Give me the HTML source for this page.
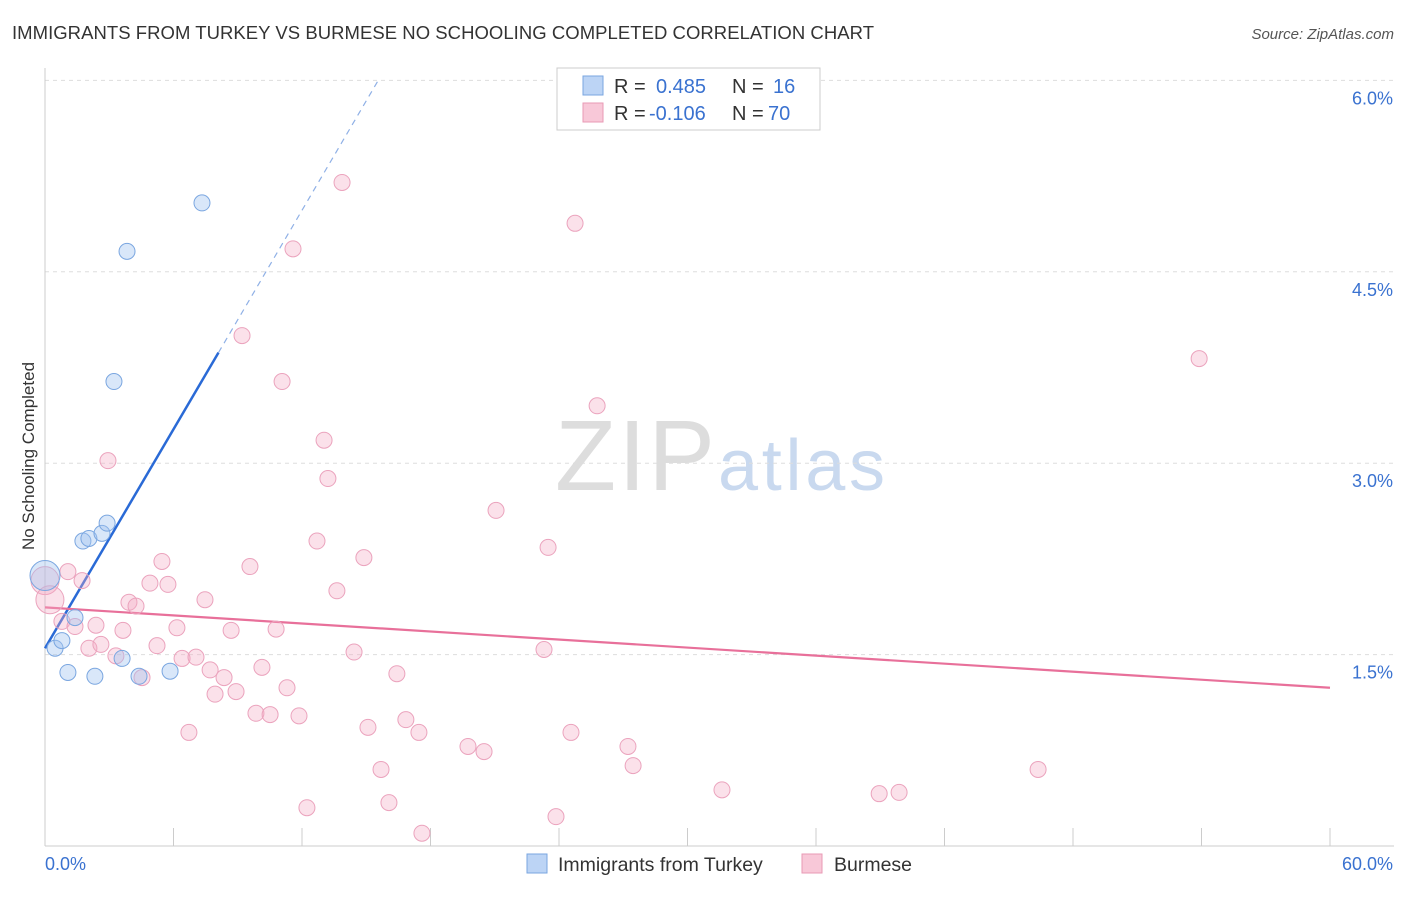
<!DOCTYPE html>
<html><head><meta charset="utf-8"><style>
body{margin:0;background:#fff;font-family:"Liberation Sans",sans-serif;}
svg text{font-family:"Liberation Sans",sans-serif;}
</style></head><body>
<svg id="chart" width="1406" height="892" xmlns="http://www.w3.org/2000/svg">
<text x="12" y="39" font-size="18.5" fill="#333" textLength="862">IMMIGRANTS FROM TURKEY VS BURMESE NO SCHOOLING COMPLETED CORRELATION CHART</text>
<text x="1394" y="39" font-size="15" fill="#555" font-style="italic" text-anchor="end">Source: ZipAtlas.com</text>
<text x="555" y="490" font-size="100" fill="#ddd" textLength="160" font-family="Liberation Serif">ZIP</text>
<text x="718" y="490" font-size="72" fill="#c9d9ef" textLength="167">atlas</text>
<text transform="translate(34,456) rotate(-90)" font-size="17" fill="#333" text-anchor="middle">No Schooling Completed</text>
<g id="grid"></g><g id="trends"></g><g id="points"></g>
<g>
<rect x="557" y="68" width="263" height="62" fill="#fff" stroke="#ccc"/>
<rect x="583" y="76" width="20" height="19" fill="#bcd4f5" stroke="#7aa6e0"/>
<text x="614" y="93" font-size="20" fill="#333">R = <tspan fill="#3a72d0" x="656">0.485</tspan><tspan x="732">N = </tspan><tspan fill="#3a72d0" x="773">16</tspan></text>
<rect x="583" y="103" width="20" height="19" fill="#f8c8d8" stroke="#e89ab5"/>
<text x="614" y="120" font-size="20" fill="#333">R = <tspan fill="#3a72d0" x="649">-0.106</tspan><tspan x="732">N = </tspan><tspan fill="#3a72d0" x="768">70</tspan></text>
</g>
<g>
<rect x="527" y="854" width="20" height="19" fill="#bcd4f5" stroke="#7aa6e0"/>
<text x="558" y="871" font-size="19.5" fill="#333">Immigrants from Turkey</text>
<rect x="802" y="854" width="20" height="19" fill="#f8c8d8" stroke="#e89ab5"/>
<text x="834" y="871" font-size="19.5" fill="#333">Burmese</text>
</g>
</svg>
<script>
const blueX=[0,0.47,0.79,1.07,1.40,1.77,2.05,2.33,2.66,2.90,3.22,3.60,3.83,4.39,5.84,7.33];
const blueY=[2.12,1.55,1.61,1.36,1.79,2.39,2.41,1.33,2.45,2.53,3.64,1.47,4.66,1.33,1.37,5.04];
const pinkX=[0,0.23,0.79,1.07,1.40,1.73,2.05,2.38,2.61,2.94,3.31,3.64,3.92,4.25,4.53,4.90,5.23,5.46,5.74,6.16,6.40,6.72,7.05,7.47,7.71,7.94,8.36,8.69,8.92,9.20,9.57,9.85,10.13,10.51,10.79,11.07,11.30,11.58,11.86,12.23,12.70,13.03,13.21,13.63,13.87,14.43,14.89,15.08,15.69,16.06,16.43,16.85,17.46,17.60,19.75,20.50,21.06,23.30,23.49,23.86,24.56,24.75,25.78,27.22,27.46,31.61,38.95,39.88,46.37,53.89];
const pinkY=[2.08,1.93,1.76,2.15,1.72,2.08,1.55,1.73,1.58,3.02,1.49,1.69,1.91,1.88,1.32,2.06,1.57,2.23,2.05,1.71,1.47,0.89,1.48,1.93,1.38,1.19,1.32,1.69,1.21,4.00,2.19,1.04,1.40,1.03,1.70,3.64,1.24,4.68,1.02,0.30,2.39,3.18,2.88,2.00,5.20,1.52,2.26,0.93,0.60,0.34,1.35,0.99,0.89,0.10,0.78,0.74,2.63,1.54,2.34,0.23,0.89,4.88,3.45,0.78,0.63,0.44,0.41,0.42,0.60,3.82];
const yTicks=[1.5,3.0,4.5,6.0];
const yTickLabels=["1.5%","3.0%","4.5%","6.0%"];
const blueTrend=[1.55,0.286]; // intercept, slope
const pinkTrend=[1.87,-0.0105];
const NS="http://www.w3.org/2000/svg";
const sx=v=>45+v/60*1285;
const sy=v=>846-v*127.6;
function mk(tag,attrs,parent){const e=document.createElementNS(NS,tag);for(const k in attrs)e.setAttribute(k,attrs[k]);parent.appendChild(e);return e;}
const grid=document.getElementById('grid');
yTicks.forEach((t,i)=>{
 const l=mk('line',{x1:45,x2:1394,y1:sy(t),y2:sy(t),stroke:'#ddd','stroke-dasharray':'4,4'},grid);
 
 
 const tx=mk('text',{x:1393,y:sy(t)+24,'font-size':18,fill:'#3a72d0','text-anchor':'end'},grid);
 tx.textContent=yTickLabels[i];
 
 
});
const ax=mk('line',{x1:45,x2:1394,y1:846,y2:846,stroke:'#ccc'},grid);


const ay=mk('line',{x1:45,x2:45,y1:68,y2:846,stroke:'#ccc'},grid);


for(let i=0;i<=10;i++){const t=mk('line',{x1:sx(i*6),x2:sx(i*6),y1:828,y2:846,stroke:'#ccc'},grid);
 
 }
const xl0=mk('text',{x:45,y:870,'font-size':18,fill:'#3a72d0'},grid);xl0.textContent='0.0%';


const xl1=mk('text',{x:1393,y:870,'font-size':18,fill:'#3a72d0','text-anchor':'end'},grid);xl1.textContent='60.0%';


const pts=document.getElementById('points');
pinkX.forEach((x,i)=>{const c=mk('circle',{cx:sx(x),cy:sy(pinkY[i]),r:i<2?14:8,fill:'rgba(244,170,195,0.35)',stroke:'#eba3bd','stroke-width':1},pts);
 
 });
blueX.forEach((x,i)=>{const c=mk('circle',{cx:sx(x),cy:sy(blueY[i]),r:i==0?15:8,fill:'rgba(160,195,240,0.4)',stroke:'#7aa6e0','stroke-width':1},pts);
 
 });
const tr=document.getElementById('trends');
const bEnd=8.1, bDash=15.6;
const b1=mk('line',{x1:sx(0),y1:sy(blueTrend[0]),x2:sx(bEnd),y2:sy(blueTrend[0]+blueTrend[1]*bEnd),stroke:'#2a6ad6','stroke-width':2.5},tr);


const b2=mk('line',{x1:sx(bEnd),y1:sy(blueTrend[0]+blueTrend[1]*bEnd),x2:sx(bDash),y2:sy(blueTrend[0]+blueTrend[1]*bDash),stroke:'#8fb0e6','stroke-width':1.2,'stroke-dasharray':'6,5'},tr);


const p1=mk('line',{x1:sx(0),y1:sy(pinkTrend[0]),x2:sx(60),y2:sy(pinkTrend[0]+pinkTrend[1]*60),stroke:'#e8709a','stroke-width':2.2},tr);


</script>
</body></html>
